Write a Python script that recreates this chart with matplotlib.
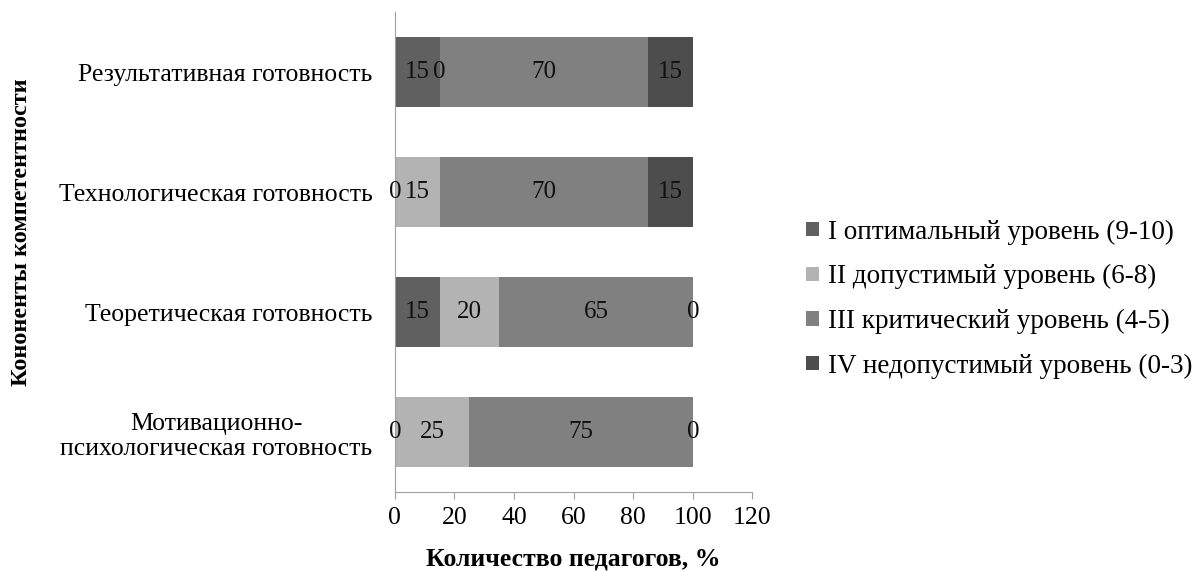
import numpy as np
import matplotlib
matplotlib.use('Agg')

import matplotlib.pyplot as plt

# ------------------------------------------------------------
# DATA
# ------------------------------------------------------------

components = [
    'Мотивационно-\nпсихологическая готовность',
    'Теоретическая готовность',
    'Технологическая готовность',
    'Результативная готовность',
]

level_names = [
    'I оптимальный уровень (9-10)',
    'II допустимый уровень (6-8)',
    'III критический уровень (4-5)',
    'IV недопустимый уровень (0-3)',
]

# percent of teachers, one list per level, ordered as components
level_1 = [0, 15, 0, 15]
level_2 = [25, 20, 15, 0]
level_3 = [75, 65, 70, 70]
level_4 = [0, 0, 15, 15]

levels = [level_1, level_2, level_3, level_4]
colors = ['#606060', '#b3b3b3', '#808080', '#4d4d4d']

x_ticks = [0, 20, 40, 60, 80, 100, 120]

# ------------------------------------------------------------
# PLOT
# ------------------------------------------------------------

plt.rcParams['font.family'] = ['Liberation Serif', 'DejaVu Serif']

fig = plt.figure(figsize=(12, 5.71), dpi=100)
ax = fig.add_axes([0.329, 0.138, 0.298, 0.841])

y = np.arange(len(components))
left = np.zeros(len(components))

for vals, col, name in zip(levels, colors, level_names):
    vals = np.array(vals, dtype=float)
    ax.barh(y, vals, left=left, height=0.58, color=col, label=name)
    for yi, l, v in zip(y, left, vals):
        ax.text(l + v / 2, yi, f'{v:.0f}', ha='center', va='center',
                fontsize=18, color='#111111')
    left += vals

ax.set_xlim(0, 120)
ax.set_ylim(-0.5, len(components) - 0.5)
ax.set_xticks(x_ticks)
ax.set_yticks(y)
ax.set_yticklabels(components, fontsize=18.5, linespacing=1.2)
for lbl in ax.get_yticklabels():
    lbl.set_multialignment('center')
ax.tick_params(axis='x', labelsize=18.5, length=5, color='#a0a0a0', pad=6)
ax.tick_params(axis='y', length=0, pad=16)

for s in ['top', 'right']:
    ax.spines[s].set_visible(False)
for s in ['left', 'bottom']:
    ax.spines[s].set_color('#a0a0a0')

ax.set_xlabel('Количество педагогов, %', fontsize=18.5, fontweight='bold',
              labelpad=13)
fig.text(0.018, 0.594, 'Кононенты компетентности', rotation=90,
         ha='center', va='center', fontsize=17.5, fontweight='bold')

handles, labels = ax.get_legend_handles_labels()
fig.legend(handles, labels, loc='center left', bbox_to_anchor=(0.672, 0.476),
           frameon=False, fontsize=19.5, handlelength=0.45, handleheight=0.45,
           handletextpad=0.35, labelspacing=0.72, borderaxespad=0,
           borderpad=0)

plt.savefig('out.png', dpi=100, facecolor='white')
plt.close()
